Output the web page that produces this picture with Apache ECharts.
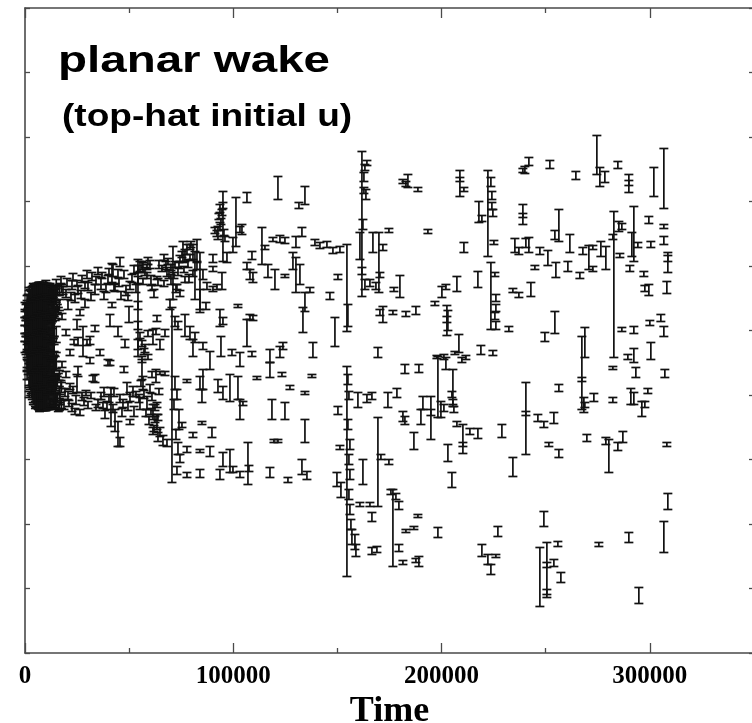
<!DOCTYPE html>
<html>
<head>
<meta charset="utf-8">
<script src="https://cdn.jsdelivr.net/npm/echarts@6/dist/echarts.min.js"></script>
<style>html,body{margin:0;padding:0;background:#fff;overflow:hidden}#chart{width:752px;height:723px}</style>
</head>
<body>
<div id="chart"></div>
<script>
// Each bar: [time, lower, upper]  (vertical axis in arbitrary units)
const xTickLabels = ['0', '100000', '200000', '300000'];
const titleText = 'planar wake';
const subtitleText = '(top-hat initial u)';
const xAxisName = 'Time';

const blobBars = [
[0,13,21],[0,5,13],[0,-3,5],[0,-11,-3],[0,-22,-11],[0,19,28],
[1000,27,35],[1000,20,27],[1000,12,19],[1000,-14,-6],[1000,-27,-19],[1000,-37,-29],[1000,-49,-41],
[2000,36,43],[2000,1,9],[2000,-7,1],[2000,-21,-14],[2000,-57,-49],[2000,-67,-61],
[3000,31,39],[3000,24,31],[3000,9,16],[3000,-31,-24],[3000,-42,-34],[3000,-63,-55],
[4000,40,47],[4000,18,25],[4000,-2,5],[4000,-16,-9],[4000,-50,-43],[4000,-74,-67],
[5000,34,41],[5000,7,13],[5000,-24,-17],[5000,-36,-29],[5000,-66,-59],[5000,-78,-71],
[6000,39,45],[6000,26,33],[6000,13,19],[6000,-9,-2],[6000,-44,-37],[6000,-58,-51],
[7000,41,48],[7000,21,29],[7000,2,9],[7000,-28,-21],[7000,-52,-45],[7000,-73,-65],[7000,-81,-74],
[8000,30,37],[8000,15,21],[8000,-14,-7],[8000,-38,-31],[8000,-64,-57],
[9000,37,44],[9000,6,13],[9000,-20,-13],[9000,-31,-25],[9000,-48,-41],[9000,-75,-67],
[10000,43,50],[10000,26,33],[10000,-4,3],[10000,-42,-35],[10000,-60,-53],[10000,-80,-73],
[11000,34,41],[11000,18,25],[11000,-26,-19],[11000,-54,-47],[11000,-68,-61],
[12000,40,47],[12000,10,17],[12000,-12,-5],[12000,-36,-29],[12000,-77,-69],
[13000,32,39],[13000,22,29],[13000,2,9],[13000,-46,-39],[13000,-62,-55],
[14000,38,44],[14000,-21,-14],[14000,-56,-49],[14000,-79,-71],
[15000,45,51],[15000,28,35],[15000,-38,-31],[15000,-70,-63],
[16000,16,23],[16000,-50,-43],[16000,-81,-74]
];

const blobFill = [
[500,10,26],[500,-6,10],[500,-24,-6],
[1500,22,36],[1500,4,22],[1500,-12,4],[1500,-30,-12],[1500,-44,-30],
[2500,27,41],[2500,13,27],[2500,-5,13],[2500,-20,-5],[2500,-38,-20],[2500,-59,-38],
[3500,30,44],[3500,8,30],[3500,-10,8],[3500,-27,-10],[3500,-47,-27],[3500,-69,-47],
[4500,33,46],[4500,16,33],[4500,-3,16],[4500,-22,-3],[4500,-39,-22],[4500,-56,-39],[4500,-74,-56],
[5500,35,47],[5500,20,35],[5500,2,20],[5500,-15,2],[5500,-33,-15],[5500,-51,-33],[5500,-63,-51],[5500,-77,-63],
[6500,30,48],[6500,11,30],[6500,-6,11],[6500,-24,-6],[6500,-41,-24],[6500,-60,-41],[6500,-79,-60],
[7500,36,48],[7500,17,36],[7500,-1,17],[7500,-18,-1],[7500,-36,-18],[7500,-55,-36],[7500,-68,-55],[7500,-80,-68],
[8500,33,48],[8500,14,33],[8500,-4,14],[8500,-22,-4],[8500,-43,-22],[8500,-61,-43],[8500,-80,-61],
[9500,38,47],[9500,22,38],[9500,3,22],[9500,-16,3],[9500,-34,-16],[9500,-50,-34],[9500,-66,-50],[9500,-80,-66],
[10500,31,47],[10500,12,31],[10500,-9,12],[10500,-28,-9],[10500,-45,-28],[10500,-63,-45],[10500,-79,-63],
[11500,36,46],[11500,20,36],[11500,0,20],[11500,-20,0],[11500,-39,-20],[11500,-57,-39],[11500,-79,-57],
[12500,29,45],[12500,7,29],[12500,-14,7],[12500,-32,-14],[12500,-52,-32],[12500,-77,-52],
[13500,33,43],[13500,15,33],[13500,-8,15],[13500,-27,-8],[13500,-50,-27],[13500,-74,-50],
[14500,28,41],[14500,10,24],[14500,-40,-26],[14500,-62,-45],[14500,-77,-64],
[15500,36,44],[15500,18,26],[15500,-56,-46],[15500,-72,-62]
];

const blobCore = [
[1000,14,30],[1000,-3,14],[1000,-21,-3],[1000,-40,-21],
[2000,24,40],[2000,6,24],[2000,-12,6],[2000,-33,-12],[2000,-55,-33],
[3000,28,43],[3000,11,28],[3000,-7,11],[3000,-25,-7],[3000,-44,-25],[3000,-65,-44],
[4000,29,45],[4000,12,29],[4000,-6,12],[4000,-24,-6],[4000,-42,-24],[4000,-58,-42],[4000,-72,-58],
[5000,32,46],[5000,14,32],[5000,-4,14],[5000,-21,-4],[5000,-40,-21],[5000,-57,-40],[5000,-76,-57],
[6000,34,47],[6000,17,34],[6000,0,17],[6000,-19,0],[6000,-37,-19],[6000,-54,-37],[6000,-78,-54],
[7000,31,48],[7000,13,31],[7000,-5,13],[7000,-23,-5],[7000,-42,-23],[7000,-61,-42],[7000,-80,-61],
[8000,35,48],[8000,19,35],[8000,1,19],[8000,-17,1],[8000,-35,-17],[8000,-52,-35],[8000,-70,-52],[8000,-80,-70],
[9000,32,48],[9000,15,32],[9000,-2,15],[9000,-21,-2],[9000,-40,-21],[9000,-59,-40],[9000,-80,-59],
[10000,36,47],[10000,18,36],[10000,0,18],[10000,-18,0],[10000,-37,-18],[10000,-56,-37],[10000,-80,-56],
[11000,30,47],[11000,11,30],[11000,-8,11],[11000,-26,-8],[11000,-46,-26],[11000,-64,-46],[11000,-79,-64],
[12000,34,46],[12000,16,34],[12000,-3,16],[12000,-22,-3],[12000,-42,-22],[12000,-60,-42],[12000,-78,-60],
[13000,27,44],[13000,9,27],[13000,-11,9],[13000,-30,-11],[13000,-51,-30],[13000,-76,-51],
[14000,31,43],[14000,14,31],[14000,-6,14],[14000,-25,-6],[14000,-47,-25],[14000,-75,-47],
[15000,30,42],[15000,12,30],[15000,-12,4],[15000,-40,-22],[15000,-60,-44],[15000,-78,-62],
[16500,35,46],[16500,20,31],[16500,-50,-40],[16500,-68,-56],[16500,-80,-72],
[17500,38,46],[17500,-62,-52],[17500,-78,-70]
];

const earlyBars = [
[17280,47,54],[19680,33,41],[20640,21,31],[22560,41,50],[24000,28,36],[25440,37,45],[27360,48,55],
[28800,23,31],[30240,40,48],[32160,50,58],[33600,36,46],[35040,56,63],[36480,41,53],[37920,31,39],
[39840,47,55],[41760,48,67],[43200,39,47],[44640,53,61],[46080,31,39],[48480,35,45],[50400,41,49],
[52320,57,65],[54240,-26,71],[54240,58,65],[54240,47,54],[54240,21,29],[54240,1,9],[54240,-19,-9],
[56160,61,69],[57600,55,63],[59040,66,73],[60480,45,55],[61920,33,41],[63840,45,52],[65760,59,65],
[67680,61,69],[69120,52,60],[72000,63,69],[73440,55,63],[75360,73,79],[76800,69,81],[78240,63,71],
[79680,83,89],[80640,71,86],[81600,31,79],[84000,21,78],[82560,61,69],[85440,51,61],[87360,41,48],
[42240,54,66],[45600,64,73],
[18240,36,44],[20160,44,52],[22080,30,38],[23040,50,57],[24960,44,50],[26880,32,40],[28800,42,49],
[29760,52,60],[31680,30,38],[34080,46,54],[36960,52,58],[38880,38,46],[40320,56,62],[42720,40,46],
[45120,44,52],[47520,52,60],[49440,30,38],[51360,48,56],[53280,38,46],
[26400,15,21],[27840,-26,4],[25440,-15,-7],[24960,1,11],[31200,-14,-6],[33600,-1,5],[36000,-25,-19],
[39840,-35,-29],[40800,4,16],[44640,-6,4],[41760,23,28],[49920,8,24],[48000,-17,-9],[17760,11,17],
[19680,-5,1],[21600,-25,-19],[23520,-14,-9],[29760,-15,-9],[17760,-37,-31],[19680,-47,-41],
[21600,-59,-53],[31200,-33,-27],
[16800,-74,-64],[18720,-79,-69],[20640,-69,-61],[22560,-81,-73],[24480,-74,-65],[25440,-46,-36],
[26400,-85,-79],[28320,-75,-67],[24960,-62,-44],[29280,-65,-60],[32640,-51,-45],[33600,-52,-44],
[35040,-77,-69],[36480,-69,-62],[37920,-66,-57],[39360,-79,-71],[40800,-35,-30],[41280,-96,-57],
[42240,-82,-74],[43200,-101,-79],[44640,-116,-91],[45600,-116,-107],[45600,-72,-64],[47520,-42,-36],
[48960,-64,-52],[47040,-77,-69],[50400,-71,-62],[50400,-94,-89],[51840,-66,-56],[53280,-66,-61],
[55200,-79,-67],[56640,-59,-46],[56160,-49,-29],[58560,-79,-66],[60000,-62,-54],[60960,-47,-41],
[61440,-89,-74],[62880,-52,-39],[63360,-99,-84],[64800,-44,-41],[63360,-77,-72],[64800,-106,-97],
[63840,-111,-102],[66240,-115,-105],[68160,-116,-109],[67200,-45,-41],
[17280,-58,-50],[19200,-66,-58],[21120,-76,-70],[23040,-63,-56],[24000,-84,-78],[27360,-70,-62],
[30240,-78,-71],[31680,-68,-62],[34080,-80,-74],[37440,-78,-72],[38400,-88,-80],[40320,-72,-64],
[42720,-66,-58],[46560,-86,-78],[49440,-80,-72],[52320,-86,-76],[54720,-72,-64],
[55680,-56,-50],[57120,-68,-60],[58080,-86,-79],[59520,-94,-86],[60960,-70,-63],[62400,-80,-74],
[61440,-104,-97],[63840,-90,-84],
[55200,-8,-2],[56160,-16,-10],[57120,-24,-18],[56160,-32,-26],[59040,-6,0],[62880,-4,2],
[70080,46,56],[72480,38,46],[74400,34,40],
[60480,-84,-78],[62400,-92,-86],[64320,-64,-58],[61920,-101,-95]
];

const centreBars = [
[70560,-152,23],[69600,21,31],[72000,4,14],[73440,1,9],[72000,-59,-46],[72960,-69,-59],[71520,-79,-69],
[73920,-99,-79],[72480,-109,-99],[73440,-124,-112],[74400,-132,-124],[72960,-144,-136],[75360,-97,-92],
[77760,-52,-49],[77760,-122,-116],[77760,-147,-142],[79200,-9,4],[80640,-26,-9],[81600,-12,-2],
[80640,-107,-102],[84000,-59,-46],[84960,-72,-59],[85440,-19,-12],[84960,-94,-91],[84000,-122,-119],
[84000,-147,-139],[85440,-59,-39],[86880,21,28],[88800,-39,-21],[89760,-107,-97],[88800,-126,-116],
[90240,59,64],[90240,39,44],[92160,41,46],[94560,41,58],[93600,4,21],[95040,6,13],[94080,-26,-6],
[92640,-62,-49],[95040,-69,-56],[95040,-136,-122],[93600,-149,-139],[98400,-71,-44],[98400,-142,-119],
[99360,-25,-19],[99840,-142,-136],[102240,23,26],[102240,-69,-46],[103200,-89,-69],[103200,-36,-22],
[104640,-75,-71],[103200,-147,-141],[106560,-16,11],[107040,-154,-112],[107520,-141,-135],[108000,11,16],
[109440,10,15],[108960,-26,-21],[111360,-49,-46],
[90240,68,76],[95040,69,139],[93600,118,126],[94560,115,121],[92640,91,104],[95520,95,101],[96000,89,94],
[101280,84,133],[103200,98,104],[106560,128,138],[104160,96,106],[99840,78,93],[96960,68,78],
[106560,61,68],[108000,51,61],[108960,71,79],[84000,18,41],[76800,-6,16],[82560,68,91],[75840,68,89],
[77760,76,86],[72960,41,46],[71040,31,84],[68160,54,63],[63360,51,54],[56640,58,68],[60000,62,70],
[61440,-14,1],[64800,-19,-9],[67200,-6,1],[63360,9,15],[57600,-22,-14],[59040,-29,-24],[55200,59,69],
[58560,61,66],[79200,81,86],
[93600,100,108],[92160,94,100],[94080,106,112],[91200,97,103],[95040,122,128],[93120,111,117],
[66720,70,76],[70080,60,66],[74400,69,75],[76320,58,64],[78720,48,56],[80640,54,60],
[56640,46,52],[58560,52,58],[60960,40,46],[64320,62,70],[66720,44,50],[68640,66,72],[71520,52,58],
[73920,62,68],[76800,48,54],[79200,70,76]
];

const midBars = [
[113760,66,103],[115200,81,85],[109440,48,58],[116640,53,66],[117600,-32,-19],[117600,-47,-32],
[118560,-89,-69],[117600,-147,-137],[120000,41,61],[119520,-112,-109],[121440,-112,-109],[123360,-46,-42],
[124800,-89,-72],[124800,53,56],[123840,-19,-12],[122400,-27,-16],[126240,-152,-147],[127200,-59,-55],
[128640,61,78],[130080,38,73],[132000,46,66],[132960,-144,-129],[134400,-64,-61],[134400,-112,-89],
[135360,-149,-141],[134400,19,38],[133440,-2,23],[136800,38,43],[137760,-47,-44],[138240,-27,-12],
[139200,85,91],[141600,82,88],[144960,83,89],[147840,77,83],[146400,31,38],[148800,-16,13],
[150240,51,56],[150240,-84,-76],[151200,78,84],[151200,-119,-115],[149760,-156,-142],[151680,-167,-152],
[154560,-1,86],[155040,4,26],[154560,-246,-36],
[155040,-54,-44],[155520,-69,-61],[155040,-99,-89],[156000,-119,-109],[155520,-134,-124],[156000,-149,-139],
[155520,-169,-159],[156000,-184,-174],[156480,-199,-189],[156960,-214,-199],[158400,-219,-204],
[159840,-77,-62],[158880,-226,-214],[160800,-176,-172],[162240,-154,-129],[164160,-72,-64],[166560,-69,-62],
[166560,-191,-182],[166560,-224,-217],[165600,-176,-172],[168960,-222,-216],
[161760,34,179],[162720,149,158],[163680,131,141],[162240,101,111],[160800,71,98],[163200,41,51],
[165600,44,51],[167040,78,98],[168480,41,48],[161760,56,63],
[163200,160,166],[164160,165,170],[162720,137,143],
[121440,131,154],[134400,126,144],[131520,122,128],[132960,94,103],[130080,83,94],[119040,89,93],
[122400,88,95],[124800,87,93]
];

const lateBars = [
[174720,98,102],[193440,97,101],[210720,78,88],[170400,53,58],[177120,39,43],[180000,33,55],
[181440,147,151],[182880,144,149],[183840,143,156],[188640,139,143],[208800,134,160],[208800,149,153],
[210720,139,143],[222240,74,160],[223680,144,153],[224160,131,139],[224160,121,128],[224640,114,121],
[217920,108,129],[219360,109,115],[225120,86,90],[223680,1,68],[225600,54,58],[226080,29,36],
[226080,19,26],[225600,11,18],[226080,1,9],[239040,158,162],[240000,157,164],[241920,165,173],
[252000,162,170],[264480,151,159],[274560,156,195],[276000,144,163],[278400,148,159],[284640,162,169],
[289920,138,156],[289920,145,150],[301920,134,163],[306720,122,182],[306720,102,106],[306720,86,94],
[308640,58,78],[308640,69,75],[308160,37,49],[299520,107,114],[300480,83,89],[297120,54,59],
[299520,35,46],[297600,39,45],[292320,69,124],[291360,74,98],[294240,83,88],[285120,99,109],
[286560,101,107],[282720,-27,119],[282240,91,96],[285600,73,77],[290400,59,65],[278880,61,84],
[276480,74,89],[272640,81,85],[272640,59,64],[270720,61,85],[267840,76,83],[266400,52,58],
[261600,78,96],[260640,59,69],[256320,89,121],[254400,91,100],[254880,53,68],[251040,65,80],
[247200,76,83],[244800,61,65],[242880,34,48],[241920,78,93],[239040,106,126],[239040,113,117],
[235200,78,92],[237120,76,83],[240480,83,92],[234240,38,42],[237120,33,38],[232320,-1,4],
[217440,43,59],[207360,39,54],[202080,41,46],[200160,33,44],[196800,25,29],[202560,-5,25],
[203040,0,20],[202560,8,14],
[208320,-22,-4],[206400,-24,-21],[201120,-29,-24],[197760,-28,-25],[211680,-29,-25],[218880,-24,-15],
[224640,-25,-20],[187680,16,24],[182880,14,19],[176640,16,20],[171840,8,24],[170400,15,21],
[169440,-27,-17],[254400,-3,19],[249600,-11,-2],[268800,-27,3],[267360,-79,-6],[286560,-1,3],
[292320,-3,4],[300000,5,10],[305280,9,16],[306720,-6,4],[300480,-29,-12],[292320,-32,-18],
[289440,-29,-24],[169920,38,98],[171840,80,86]
];

const lowBars = [
[182400,-43,-34],[189120,-42,-34],[198240,-87,-26],[199680,-87,-71],[201120,-81,-74],[202080,-39,-27],
[205440,-76,-39],[204960,-67,-61],[205440,-74,-69],[205920,-82,-76],[207360,-96,-91],[210240,-123,-94],
[210240,-116,-112],[213600,-104,-98],[217440,-108,-98],[209760,-32,-27],[203040,-131,-114],[204960,-157,-142],
[194880,-109,-66],[194880,-85,-79],[191040,-79,-66],[190080,-94,-79],[186720,-119,-102],[181440,-91,-81],
[182400,-94,-86],[178560,-67,-58],[174240,-77,-62],[169440,-176,-87],[170880,-129,-124],[174720,-134,-129],
[176640,-236,-159],[175680,-164,-159],[178080,-169,-163],[179520,-179,-171],[179520,-221,-214],
[181440,-234,-230],[182880,-202,-199],[186720,-199,-196],[188640,-187,-184],[189120,-236,-226],
[187680,-232,-228],[198240,-207,-197],[227040,-206,-196],[219360,-226,-214],[222240,-234,-224],
[223680,-244,-234],[226080,-227,-224],[228960,-107,-94],[234240,-146,-127],[240480,-124,-52],
[240480,-85,-81],[246240,-91,-84],[249120,-97,-91],[253920,-93,-82],[251520,-116,-112],[256320,-127,-119],
[256320,-61,-54],[249120,-196,-181],[247200,-276,-217],[250560,-267,-212],[250560,-237,-232],
[250560,-264,-259],[253920,-236,-229],[255840,-216,-211],[257280,-252,-242],[267360,-51,-47],
[268320,-82,-67],[268800,-77,-72],[269760,-111,-104],[273120,-71,-63],[282240,-39,-36],[282240,-72,-67],
[280320,-142,-109],[278880,-114,-107],[284640,-120,-112],[287040,-112,-101],[275520,-216,-212],
[289920,-212,-202],[290880,-74,-58],[292320,-74,-62],[293280,-47,-37],[296160,-86,-71],[297600,-77,-71],
[299040,-63,-58],[307200,-47,-39],[308160,-116,-112],[308640,-179,-163],[306720,-222,-191],[294720,-273,-257]
];

const chart = echarts.init(document.getElementById('chart'), null, {renderer: 'canvas'});
const ink = '#111111';
const axisColor = '#4a4a4a';
function renderBar(params, api) {
  const t = api.value(0), lo = api.value(1), hi = api.value(2);
  const a = api.coord([t, hi]);
  const b = api.coord([t, lo]);
  const w = 4.5;
  const st = {stroke: ink, lineWidth: 1.7};
  return {type: 'group', children: [
    {type: 'line', shape: {x1: a[0], y1: a[1], x2: b[0], y2: b[1]}, style: st},
    {type: 'line', shape: {x1: a[0] - w, y1: a[1], x2: a[0] + w, y2: a[1]}, style: st},
    {type: 'line', shape: {x1: b[0] - w, y1: b[1], x2: b[0] + w, y2: b[1]}, style: st}
  ]};
}
function barSeries(name, data) {
  return {name: name, type: 'custom', renderItem: renderBar, data: data, clip: false, silent: true,
          encode: {x: 0, y: [1, 2]}};
}
const labelStyle = {fontFamily: '"Liberation Serif", "Times New Roman", serif', fontWeight: 'bold', fontSize: 25, color: '#000'};
function xAx(pos, showLabels) {
  return {
    type: 'value', position: pos, min: 0, max: 350000, interval: 100000,
    axisLine: {show: true, onZero: false, lineStyle: {color: axisColor, width: 1.6}},
    axisTick: {show: true, inside: true, length: 10, lineStyle: {color: axisColor, width: 1.3}},
    minorTick: {show: true, splitNumber: 2, length: 5, lineStyle: {color: axisColor, width: 1.3}},
    splitLine: {show: false}, minorSplitLine: {show: false},
    axisLabel: Object.assign({show: showLabels, margin: 11,
      formatter: function (v) { const i = Math.round(v / 100000); return xTickLabels[i] !== undefined ? xTickLabels[i] : ''; }}, labelStyle),
    name: showLabels ? xAxisName : '', nameLocation: 'middle', nameGap: 35,
    nameTextStyle: {fontFamily: '"Liberation Serif", "Times New Roman", serif', fontWeight: 'bold', fontSize: 36, color: '#000'}
  };
}
function yAx(pos) {
  return {
    type: 'value', position: pos, min: -322.5, max: 322.5, interval: 64.5,
    axisLine: {show: true, onZero: false, lineStyle: {color: axisColor, width: 1.6}},
    axisTick: {show: true, inside: true, length: 5, lineStyle: {color: axisColor, width: 1.3}},
    axisLabel: {show: false}, splitLine: {show: false}
  };
}
chart.setOption({
  animation: false,
  backgroundColor: '#fff',
  grid: {left: 25, top: 8, width: 729, height: 645, containLabel: false, outerBoundsMode: 'none'},
  xAxis: [xAx('bottom', true), xAx('top', false)],
  yAxis: [yAx('left'), yAx('right')],
  graphic: [
    {type: 'text', x: 58, y: 62, scaleX: 1.284, style: {text: titleText, x: 0, y: 0, fill: '#000',
      font: 'bold 37px "Liberation Sans", Arial, sans-serif', textAlign: 'left', textVerticalAlign: 'middle'}},
    {type: 'text', x: 62, y: 117, scaleX: 1.195, style: {text: subtitleText, x: 0, y: 0, fill: '#000',
      font: 'bold 31px "Liberation Sans", Arial, sans-serif', textAlign: 'left', textVerticalAlign: 'middle'}}
  ],
  series: [
    barSeries('blob', blobBars),
    barSeries('blobFill', blobFill),
    barSeries('blobCore', blobCore),
    barSeries('early', earlyBars),
    barSeries('centre', centreBars),
    barSeries('mid', midBars),
    barSeries('late', lateBars),
    barSeries('low', lowBars)
  ]
});
</script>
</body>
</html>
